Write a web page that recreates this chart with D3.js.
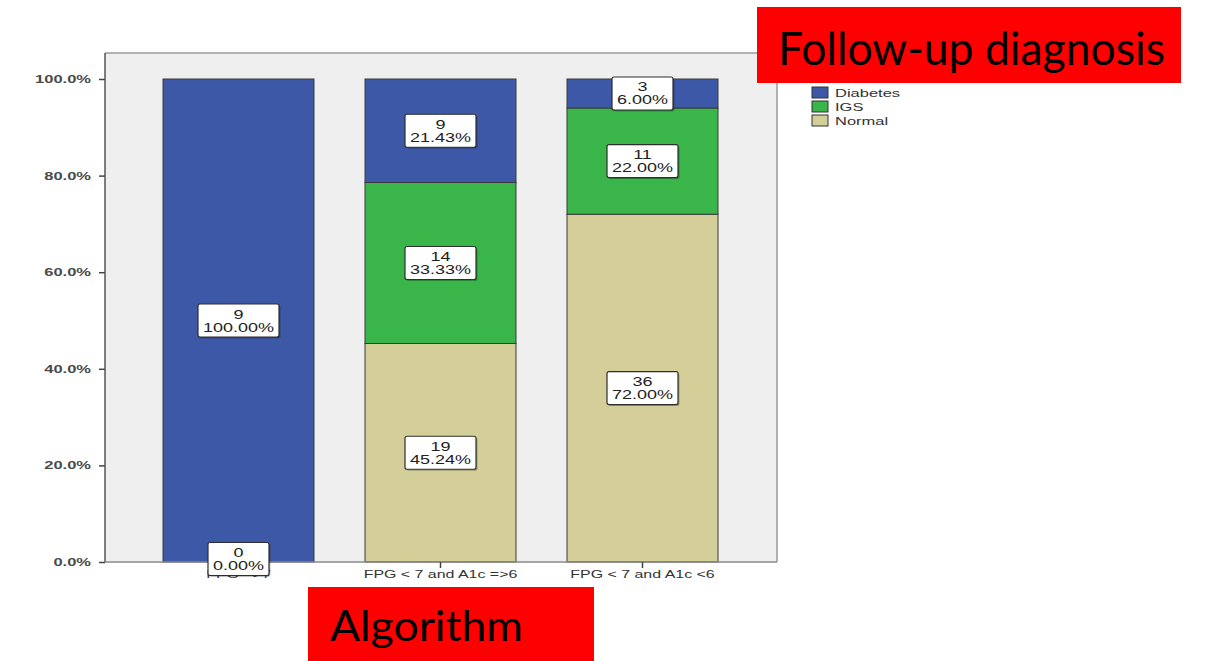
<!DOCTYPE html>
<html>
<head>
<meta charset="utf-8">
<script src="https://cdn.jsdelivr.net/npm/d3@7"></script>
<style>
  html, body { margin: 0; padding: 0; background: #ffffff; }
  svg { display: block; }
</style>
</head>
<body>
<svg id="chart" width="1221" height="661"></svg>
<script>
// Algorithm groups on the x axis
const categories = ["FPG =>7", "FPG < 7 and A1c =>6", "FPG < 7 and A1c <6"];
// Follow-up diagnosis series (stack order bottom to top: Normal, IGS, Diabetes)
const seriesNames = ["Diabetes", "IGS", "Normal"];
const diabetesCounts = [9, 9, 3];
const igsCounts = [0, 14, 11];
const normalCounts = [0, 19, 36];
const diabetesPct = [100.00, 21.43, 6.00];
const igsPct = [0.00, 33.33, 22.00];
const normalPct = [0.00, 45.24, 72.00];
const yTicks = [0, 20, 40, 60, 80, 100];

const colors = { Diabetes: "#3e58a8", IGS: "#39b54a", Normal: "#d4cf98" };

const svg = d3.select("#chart");
const frame = { left: 105, right: 777, top: 53, bottom: 562 };

const x = d3.scaleBand()
  .domain(categories)
  .range([137.5, 743.5])
  .paddingInner(0.2525)
  .paddingOuter(0.12625);

const y = d3.scaleLinear().domain([0, 100]).range([562, 79]);

// horizontal stretch applied to the small chart texts
const SX = 1.5;

// plot background
svg.append("rect")
  .attr("x", frame.left).attr("y", frame.top)
  .attr("width", frame.right - frame.left).attr("height", frame.bottom - frame.top)
  .attr("fill", "#efefef");

// frame top and right edges
svg.append("path")
  .attr("d", `M${frame.left},${frame.top}H${frame.right}V${frame.bottom}`)
  .attr("fill", "none").attr("stroke", "#9a9a9a").attr("stroke-width", 1.5);

// build stacked rows
const rows = categories.map((c, i) => ({
  cat: c,
  Normal: normalPct[i], IGS: igsPct[i], Diabetes: diabetesPct[i],
  counts: { Normal: normalCounts[i], IGS: igsCounts[i], Diabetes: diabetesCounts[i] }
}));
const stack = d3.stack().keys(["Normal", "IGS", "Diabetes"]);
const layers = stack(rows);

const g = svg.append("g");
layers.forEach(layer => {
  g.selectAll(null)
    .data(layer)
    .enter().append("rect")
    .attr("x", d => x(d.data.cat))
    .attr("width", x.bandwidth())
    .attr("y", d => y(d[1]))
    .attr("height", d => y(d[0]) - y(d[1]))
    .attr("fill", colors[layer.key])
    .attr("stroke", d => (d[1] - d[0]) > 0 ? "#3a3a3a" : "none")
    .attr("stroke-width", 1);
});

// axes
const yAxis = d3.axisLeft(y).tickValues(yTicks).tickSize(6).tickFormat(() => "");
const ya = svg.append("g").attr("transform", `translate(${frame.left},0)`).call(yAxis);
ya.select(".domain").remove();
ya.selectAll(".tick line").attr("stroke", "#444").attr("stroke-width", 1.5);
svg.append("line")
  .attr("x1", frame.left).attr("x2", frame.left)
  .attr("y1", frame.top).attr("y2", frame.bottom)
  .attr("stroke", "#555").attr("stroke-width", 1.5);

yTicks.forEach(t => {
  svg.append("text")
    .attr("transform", `translate(91,${y(t) + 4}) scale(${SX},1)`)
    .attr("text-anchor", "end")
    .attr("font-family", "Arial, 'Liberation Sans', sans-serif")
    .attr("font-size", 11)
    .attr("font-weight", "bold")
    .attr("fill", "#4a4a4a")
    .text(t.toFixed(1) + "%");
});

const xAxis = d3.axisBottom(x).tickSize(6).tickFormat(() => "");
const xa = svg.append("g").attr("transform", `translate(0,${frame.bottom})`).call(xAxis);
xa.select(".domain").attr("d", `M${frame.left},0H${frame.right}`).attr("stroke", "#8a8a8a").attr("stroke-width", 1.5);
xa.selectAll(".tick line").attr("stroke", "#444").attr("stroke-width", 1.5);

categories.forEach(c => {
  svg.append("text")
    .attr("transform", `translate(${x(c) + x.bandwidth() / 2},${frame.bottom + 16}) scale(${SX - 0.05},1)`)
    .attr("text-anchor", "middle")
    .attr("font-family", "Arial, 'Liberation Sans', sans-serif")
    .attr("font-size", 11)
    .attr("fill", "#333")
    .text(c);
});

// value labels: count and percent in a white box at each segment's centre;
// empty segments of one bar all sit at the baseline, so each is drawn once
const labelData = [];
const seen = new Set();
layers.forEach(layer => {
  layer.forEach(d => {
    const mid = (d[0] + d[1]) / 2;
    const key = d.data.cat + "|" + mid;
    if (seen.has(key)) return;
    seen.add(key);
    labelData.push({
      cat: d.data.cat,
      key: layer.key,
      mid: mid,
      count: d.data.counts[layer.key],
      pct: d.data[layer.key]
    });
  });
});

const labels = svg.append("g");
labelData.forEach(d => {
  const cx = x(d.cat) + x.bandwidth() / 2;
  const cy = d.mid === 0 ? y(0) - 3 : y(d.mid);
  const pctText = d.pct.toFixed(2) + "%";
  const w = pctText.length * 10 + 11;
  const h = 33;
  const lg = labels.append("g").attr("transform", `translate(${cx},${cy})`);
  lg.append("rect")
    .attr("x", -w / 2 + 1.5).attr("y", -h / 2 + 1.5)
    .attr("width", w).attr("height", h).attr("rx", 2)
    .attr("fill", "rgba(0,0,0,0.25)");
  lg.append("rect")
    .attr("x", -w / 2).attr("y", -h / 2)
    .attr("width", w).attr("height", h).attr("rx", 2)
    .attr("fill", "#ffffff")
    .attr("stroke", "#2e2e2e").attr("stroke-width", 1.2);
  lg.append("text")
    .attr("transform", `translate(0,-2) scale(${SX},1)`)
    .attr("text-anchor", "middle")
    .attr("font-family", "Arial, 'Liberation Sans', sans-serif")
    .attr("font-size", 12)
    .attr("fill", "#222")
    .text(d.count);
  lg.append("text")
    .attr("transform", `translate(0,11) scale(${SX},1)`)
    .attr("text-anchor", "middle")
    .attr("font-family", "Arial, 'Liberation Sans', sans-serif")
    .attr("font-size", 12)
    .attr("fill", "#222")
    .text(pctText);
});

// legend
const legend = svg.append("g").attr("transform", "translate(812,87)");
seriesNames.forEach((s, i) => {
  legend.append("rect")
    .attr("x", 0).attr("y", i * 14)
    .attr("width", 16).attr("height", 11)
    .attr("fill", colors[s]).attr("stroke", "#333").attr("stroke-width", 1);
  legend.append("text")
    .attr("transform", `translate(23,${i * 14 + 10}) scale(${SX},1)`)
    .attr("font-family", "Arial, 'Liberation Sans', sans-serif")
    .attr("font-size", 11)
    .attr("fill", "#333")
    .text(s);
});

// red caption boxes
svg.append("rect").attr("x", 757).attr("y", 7).attr("width", 424).attr("height", 76).attr("fill", "#ff0000");
svg.append("text")
  .attr("x", 778).attr("y", 65)
  .attr("font-family", "Lato, 'Open Sans', sans-serif")
  .attr("font-size", 46)
  .attr("textLength", 387).attr("lengthAdjust", "spacingAndGlyphs")
  .attr("fill", "#000")
  .text("Follow-up diagnosis");

svg.append("rect").attr("x", 308).attr("y", 587).attr("width", 286).attr("height", 74).attr("fill", "#ff0000");
svg.append("text")
  .attr("x", 330).attr("y", 641)
  .attr("font-family", "Lato, 'Open Sans', sans-serif")
  .attr("font-size", 42)
  .attr("textLength", 193).attr("lengthAdjust", "spacingAndGlyphs")
  .attr("fill", "#000")
  .text("Algorithm");
</script>
</body>
</html>
